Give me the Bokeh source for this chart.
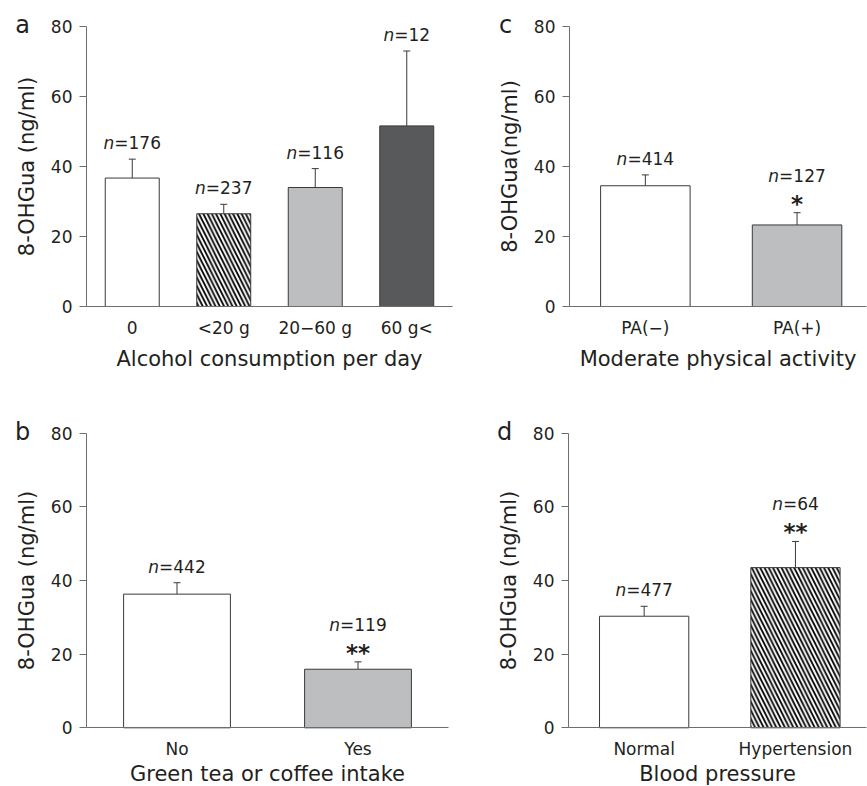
from bokeh.plotting import figure
from bokeh.models import (ColumnDataSource, Range1d, FixedTicker, Whisker, TeeHead)
from bokeh.layouts import column, row
from bokeh.core.properties import value
from bokeh.embed import file_html
from bokeh.resources import INLINE

# ---------------- data ----------------
a_cats = ["0", "<20 g", "20\u221260 g", "60 g<"]
a_mean = [36.7, 26.5, 34.0, 51.6]
a_upper = [42.1, 29.2, 39.4, 73.0]
a_n = [176, 237, 116, 12]
a_stars = ["", "", "", ""]

c_cats = ["PA(\u2212)", "PA(+)"]
c_mean = [34.5, 23.3]
c_upper = [37.6, 26.8]
c_n = [414, 127]
c_stars = ["", "*"]

b_cats = ["No", "Yes"]
b_mean = [36.3, 15.9]
b_upper = [39.4, 17.9]
b_n = [442, 119]
b_stars = ["", "**"]

d_cats = ["Normal", "Hypertension"]
d_mean = [30.3, 43.5]
d_upper = [33.0, 50.6]
d_n = [477, 64]
d_stars = ["", "**"]

y_ticks = [0, 20, 40, 60, 80]

# ---------------- styles ----------------
FONT = "DejaVu Sans"
TXT = "#231f20"
AXC = "#6d6e71"
EDGE = "#3a3a3c"
WHITE = "#ffffff"
LGRAY = "#bcbec0"
DGRAY = "#58595b"

# DejaVu Sans advance widths (em) for centering the mixed-style "n=..." labels
ADV = {"=": 0.838, "n": 0.634}
for d in "0123456789":
    ADV[d] = 0.636
NFS = 17  # px


def make_panel(cats, mean, upper, ns, stars, fills, hatches, ylabel, xlabel,
               letter, W, H, ax_x, y0_px, y80_px, pxu_x, axis_end_px, xlab_std):
    """W,H: figure size; ax_x: px of y-axis from figure left; y0_px/y80_px:
    px from figure top of value 0 / 80; pxu_x: px per category."""
    pxu_y = (y0_px - y80_px) / 80.0
    x0 = -0.5
    xr = (x0 - ax_x / pxu_x, x0 + (W - ax_x) / pxu_x)
    yr = (-(H - y0_px) / pxu_y, 80 + y80_px / pxu_y)
    x_end = x0 + (axis_end_px - ax_x) / pxu_x

    p = figure(width=W, height=H, output_backend="svg", toolbar_location=None,
               x_range=Range1d(*xr), y_range=Range1d(*yr))
    p.min_border = 0
    p.min_border_left = 0
    p.min_border_right = 0
    p.min_border_top = 0
    p.min_border_bottom = 0
    p.outline_line_color = None
    p.xgrid.visible = False
    p.ygrid.visible = False
    p.background_fill_color = "white"
    p.border_fill_color = "white"

    xs = list(range(len(cats)))
    eq = ["=" + str(n) for n in ns]
    w_n = ADV["n"] * NFS
    offs = [(w_n - sum(ADV[ch] for ch in e) * NFS) / 2.0 for e in eq]
    ny = [u + (37 if s else 16) / pxu_y for u, s in zip(upper, stars)]
    sy = [u + 9 / pxu_y for u in upper]
    src = ColumnDataSource(dict(x=xs, m=mean, u=upper, fill=fills, hatch=hatches,
                                eq=eq, nn=["n"] * len(xs), off=offs, ny=ny,
                                sy=sy, st=stars))

    p.vbar(x="x", top="m", bottom=0, width=0.59, source=src, fill_color="fill",
           line_color=EDGE, line_width=1, hatch_pattern="hatch",
           hatch_color="black", hatch_weight=1.8, hatch_scale=8.5)

    wh = Whisker(source=src, base="x", lower="m", upper="u",
                 upper_head=TeeHead(size=7, line_color=EDGE, line_width=1),
                 lower_head=None, line_color=EDGE, line_width=1)
    p.add_layout(wh)

    p.text(x="x", y="ny", text="nn", source=src, x_offset="off",
           text_align="right", text_baseline="alphabetic",
           text_font=value(FONT), text_font_style="italic",
           text_font_size=f"{NFS}px", text_color=TXT)
    p.text(x="x", y="ny", text="eq", source=src, x_offset="off",
           text_align="left", text_baseline="alphabetic",
           text_font=value(FONT), text_font_size=f"{NFS}px", text_color=TXT)
    p.text(x="x", y="sy", text="st", source=src,
           text_align="center", text_baseline="alphabetic",
           text_font=value(FONT), text_font_style="bold",
           text_font_size="23px", text_color=TXT)

    # panel letter
    p.text(x=[x0 - 64 / pxu_x], y=[80 + 1.5 / pxu_y], text=[letter],
           text_align="center", text_baseline="alphabetic",
           text_font=value(FONT), text_font_size="24px", text_color=TXT)

    # axes drawn at fixed data locations inside the frame
    for ax in (p.xaxis[0], p.yaxis[0]):
        ax.axis_line_color = AXC
        ax.axis_line_width = 1
        ax.major_tick_line_color = AXC
        ax.minor_tick_line_color = None
        ax.major_label_text_font = FONT
        ax.major_label_text_font_size = "17px"
        ax.major_label_text_color = TXT
        ax.axis_label_text_font = FONT
        ax.axis_label_text_font_size = "21px"
        ax.axis_label_text_font_style = "normal"
        ax.axis_label_text_color = TXT

    p.yaxis.fixed_location = x0
    p.yaxis.bounds = (0, 80)
    p.yaxis.ticker = FixedTicker(ticks=y_ticks)
    p.yaxis.major_tick_out = 7
    p.yaxis.major_tick_in = 0
    p.yaxis.major_label_standoff = 7
    p.yaxis.axis_label = ylabel
    p.yaxis.axis_label_standoff = 9

    p.xaxis.fixed_location = 0
    p.xaxis.bounds = (x0, x_end)
    p.xaxis.ticker = FixedTicker(ticks=xs)
    p.xaxis.major_label_overrides = {i: c for i, c in zip(xs, cats)}
    p.xaxis.major_tick_out = 0
    p.xaxis.major_tick_in = 0
    p.xaxis.major_label_standoff = 11
    p.xaxis.axis_label = xlabel
    p.xaxis.axis_label_standoff = xlab_std
    return p


H_ = " "
pa = make_panel(a_cats, a_mean, a_upper, a_n, a_stars,
                [WHITE, WHITE, LGRAY, DGRAY],
                [H_, "left_diagonal_line", H_, H_],
                "8-OHGua (ng/ml)", "Alcohol consumption per day", "a",
                W=491, H=392, ax_x=86, y0_px=306, y80_px=26, pxu_x=91.5,
                axis_end_px=452, xlab_std=6)
pc = make_panel(c_cats, c_mean, c_upper, c_n, c_stars,
                [WHITE, LGRAY], [H_, H_],
                "8-OHGua(ng/ml)", "Moderate physical activity", "c",
                W=376, H=392, ax_x=78, y0_px=306, y80_px=26, pxu_x=151.7,
                axis_end_px=375, xlab_std=6)
pb = make_panel(b_cats, b_mean, b_upper, b_n, b_stars,
                [WHITE, LGRAY], [H_, H_],
                "8-OHGua (ng/ml)", "Green tea or coffee intake", "b",
                W=491, H=394, ax_x=86, y0_px=335.3, y80_px=40.7, pxu_x=181,
                axis_end_px=448, xlab_std=0)
pd_ = make_panel(d_cats, d_mean, d_upper, d_n, d_stars,
                 [WHITE, WHITE], [H_, "left_diagonal_line"],
                 "8-OHGua (ng/ml)", "Blood pressure", "d",
                 W=376, H=394, ax_x=77, y0_px=335.3, y80_px=40.7, pxu_x=151.3,
                 axis_end_px=375, xlab_std=0)

layout = column(row(pa, pc), row(pb, pd_))
open("out.html", "w").write(file_html(layout, INLINE))
